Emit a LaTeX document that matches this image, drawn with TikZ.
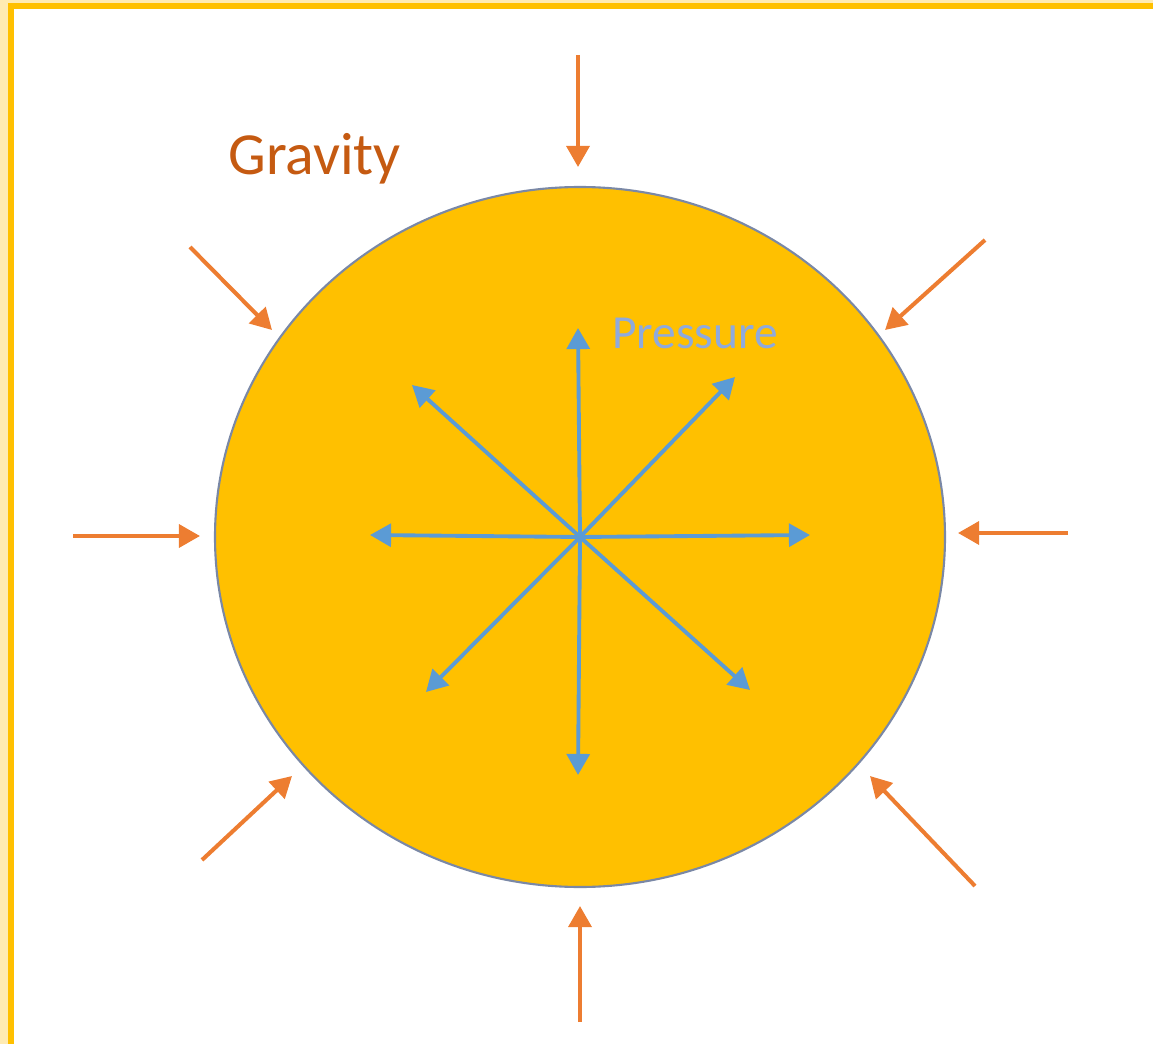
\documentclass[tikz,border=0pt]{standalone}
\usepackage{fontspec}
\setmainfont{Carlito}
\usetikzlibrary{arrows.meta}

\definecolor{framey}{HTML}{FFC000}
\definecolor{glowy}{HTML}{FFEBB3}
\definecolor{sunfill}{HTML}{FFC000}
\definecolor{rimcol}{HTML}{7A88A6}
\definecolor{gravcol}{HTML}{ED7D31}
\definecolor{gravtext}{HTML}{C55A11}
\definecolor{prescol}{HTML}{5B9BD5}
\definecolor{prestext}{HTML}{8FAADC}

\begin{document}
\begin{tikzpicture}[x=0.02cm,y=-0.02cm,>={Triangle[width=13pt,length=12pt]},
  gravarrow/.style={gravcol,line width=2.3pt,->},
  presarrow/.style={prescol,line width=2.2pt,->}]
  \useasboundingbox (0,0) rectangle (1153,1044);
  % frame, only top and left edges are in view
  \draw[glowy,line width=4pt] (4,1100) -- (4,1.5) -- (1200,1.5);
  \draw[framey,line width=3.4pt] (11,1100) -- (11,6) -- (1200,6);
  % the star
  \coordinate (c) at (580,537);
  \draw[rimcol,line width=1.2pt,fill=sunfill] (c) ellipse [x radius=365, y radius=350];
  % gravity, pointing in
  \coordinate (gn0) at (578,55);   \coordinate (gn1) at (578,167);
  \coordinate (gs0) at (580,1022); \coordinate (gs1) at (580,906);
  \coordinate (gw0) at (73,536);   \coordinate (gw1) at (200,536);
  \coordinate (ge0) at (1068,533); \coordinate (ge1) at (958,533);
  \coordinate (gnw0) at (190,247); \coordinate (gnw1) at (272,330);
  \coordinate (gne0) at (985,240); \coordinate (gne1) at (885,330);
  \coordinate (gsw0) at (202,860); \coordinate (gsw1) at (292,776);
  \coordinate (gse0) at (975,886); \coordinate (gse1) at (870,776);
  \foreach \d in {n,s,w,e,nw,ne,sw,se}
    \draw[gravarrow] (g\d0) -- (g\d1);
  % pressure, pointing out
  \coordinate (pn) at (578,328);
  \coordinate (ps) at (578,775);
  \coordinate (pw) at (370,535);
  \coordinate (pe) at (810,535);
  \coordinate (pnw) at (412,385);
  \coordinate (pne) at (735,377);
  \coordinate (psw) at (426,692);
  \coordinate (pse) at (750,690);
  \foreach \d in {n,s,w,e,nw,ne,sw,se}
    \draw[presarrow] (c) -- (p\d);
  \node[gravtext,anchor=base west,inner sep=0pt,font=\fontsize{34}{40}\selectfont]
    (gravity) at (228,175) {Gravity};
  \node[prestext,anchor=base west,inner sep=0pt,font=\fontsize{27}{32}\selectfont]
    (pressure) at (612,348) {Pressure};
\end{tikzpicture}
\end{document}
